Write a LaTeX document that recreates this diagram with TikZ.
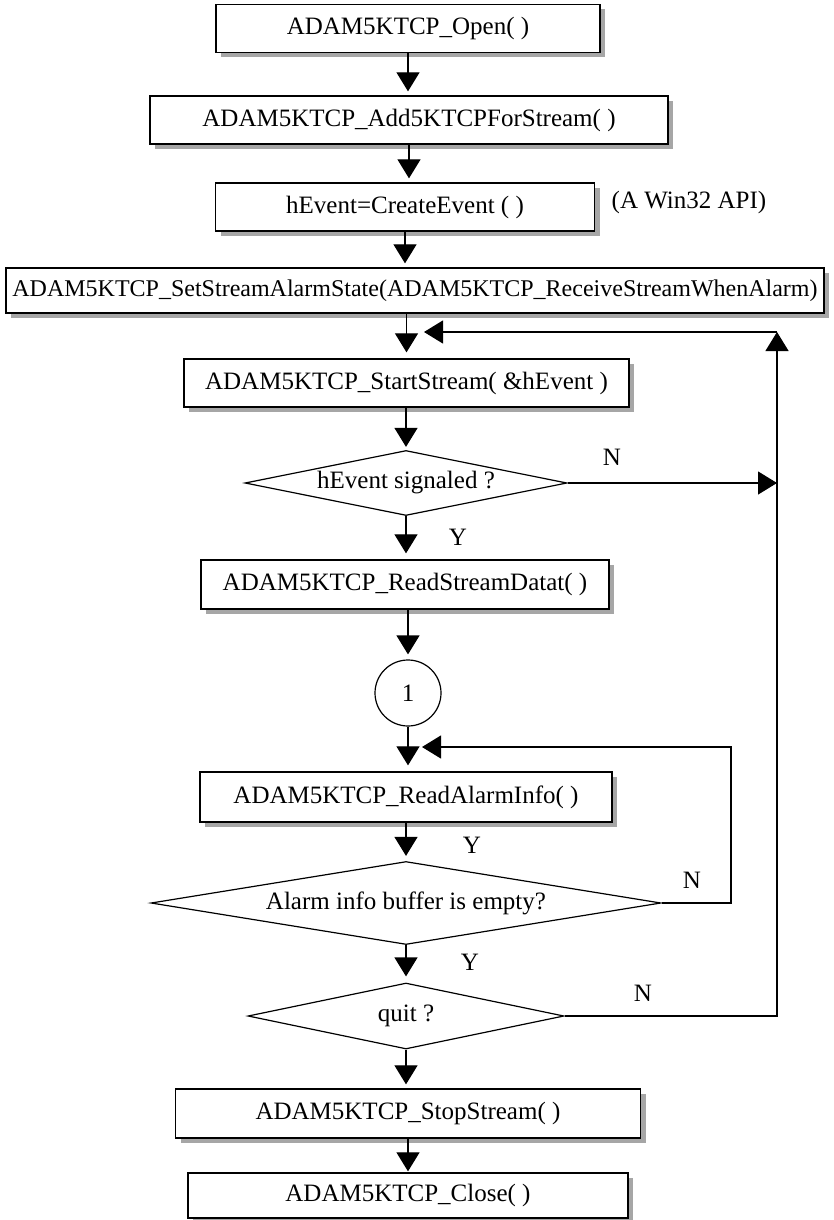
\documentclass[tikz,border=0pt]{standalone}
\usepackage{fontspec}
\setmainfont{Liberation Serif}
\usetikzlibrary{arrows.meta,shapes.geometric,shadows}

\begin{document}
\begin{tikzpicture}[x=1pt, y=-1pt,
    proc/.style={rectangle, draw=black, line width=1.3pt, fill=white, minimum height=48pt, inner sep=0pt, font=\fontsize{25}{30}\selectfont, drop shadow={shadow xshift=5pt, shadow yshift=-5pt, fill=black!35, opacity=1}},
    test/.style={diamond, draw=black, line width=1.2pt, fill=white, inner sep=0pt, font=\fontsize{25}{30}\selectfont},
    conn/.style={circle, draw=black, line width=1.2pt, minimum size=66pt, inner sep=0pt, font=\fontsize{25}{30}\selectfont},
    arr/.style={-{Triangle[length=19pt, width=23pt]}, line width=1.2pt},
    yn/.style={font=\fontsize{25}{30}\selectfont}
]
    \useasboundingbox (0,0) rectangle (834,1220);

    % Calls
    \node[proc, minimum width=384pt] (open) at (408,28.5) {ADAM5KTCP\_Open( )};
    \node[proc, minimum width=518pt] (forstream) at (409,120) {ADAM5KTCP\_Add5KTCPForStream( )};
    \node[proc, minimum width=379pt] (createevt) at (405,207) {hEvent=CreateEvent ( )};
    \node[yn] (win32) at (689,202) {(A Win32 API)};
    \node[proc, minimum width=818pt, minimum height=45pt, font=\fontsize{24}{28}\selectfont] (alarmstate) at (415,290.5) {ADAM5KTCP\_SetStreamAlarmState(ADAM5KTCP\_ReceiveStreamWhenAlarm)};
    \node[proc, minimum width=445pt] (startstream) at (406.5,383) {ADAM5KTCP\_StartStream( \&hEvent )};
    \node[test, minimum width=322pt, minimum height=65pt, shape aspect=4.9] (signaled) at (406,483) {hEvent signaled ?};
    \node[proc, minimum width=408pt, minimum height=49pt] (readdata) at (405,584.5) {ADAM5KTCP\_ReadStreamDatat( )};
    \node[conn] (one) at (408,693) {1};
    \node[proc, minimum width=412pt, minimum height=50pt] (readinfo) at (406,797) {ADAM5KTCP\_ReadAlarmInfo( )};
    \node[test, minimum width=510pt, minimum height=83pt, shape aspect=6.1] (empty) at (406,903) {Alarm info buffer is empty?};
    \node[test, minimum width=316pt, minimum height=66pt, shape aspect=4.8] (quit) at (406,1016) {quit ?};
    \node[proc, minimum width=465pt, minimum height=49pt] (stop) at (408,1113.5) {ADAM5KTCP\_StopStream( )};
    \node[proc, minimum width=440pt, minimum height=45pt] (close) at (408,1195.5) {ADAM5KTCP\_Close( )};

    % Loop points
    \coordinate (looptop) at (777,332);
    \coordinate (reentry) at (424,332);
    \coordinate (innerright) at (731,747);
    \coordinate (innerentry) at (422,747);

    % Arrows
    \draw[arr, shorten >=4pt] (open.south) -- (open.south |- forstream.north);
    \draw[arr, shorten >=4pt] (forstream.south) -- (forstream.south |- createevt.north);
    \draw[arr, shorten >=4pt] (createevt.south) -- (createevt.south |- alarmstate.north);
    \draw[arr, shorten >=6pt] (alarmstate.south -| startstream.north) -- (startstream.north);
    \draw[arr, shorten >=3pt] (startstream.south -| signaled.north) -- (signaled.north);
    \draw[arr, shorten >=6pt] (signaled.south) -- (signaled.south |- readdata.north);
    \draw[arr, shorten >=5pt] (readdata.south -| one.north) -- (one.north);
    \draw[arr, shorten >=6pt] (one.south) -- (one.south |- readinfo.north);
    \draw[arr, shorten >=5pt] (readinfo.south -| empty.north) -- (empty.north);
    \draw[arr, shorten >=6pt] (empty.south) -- (empty.south |- quit.north);
    \draw[arr, shorten >=4pt] (quit.south) -- (quit.south |- stop.north);
    \draw[arr, shorten >=1pt] (stop.south) -- (stop.south |- close.north);
    \draw[arr] (signaled.east) -- (signaled.east -| looptop);
    \draw[arr] (quit.east) -| (looptop);
    \draw[arr] (looptop) -- (reentry);
    \draw[arr] (empty.east) -| (innerright) -- (innerentry);

    % Labels
    \node[yn] (n1) at (612,457) {N};
    \node[yn] (y1) at (458,537) {Y};
    \node[yn] (y2) at (472,845) {Y};
    \node[yn] (n2) at (692,880) {N};
    \node[yn] (y3) at (470,962) {Y};
    \node[yn] (n3) at (643,993) {N};
\end{tikzpicture}
\end{document}
